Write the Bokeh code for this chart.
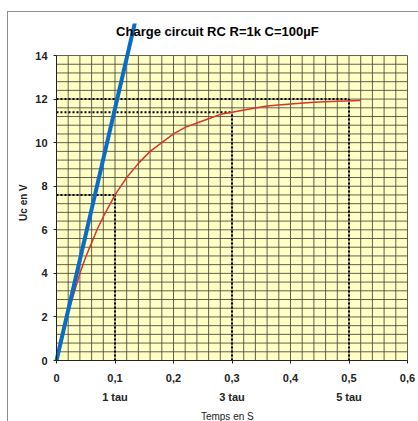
import numpy as np
from bokeh.plotting import figure
from bokeh.models import FixedTicker, Label, BoxAnnotation, Range1d, LinearAxis
from bokeh.embed import file_html
from bokeh.resources import INLINE

# ---- data ----
t_s = [0.0, 0.01, 0.02, 0.03, 0.04, 0.05, 0.06, 0.07, 0.08, 0.09, 0.10,
       0.12, 0.14, 0.16, 0.18, 0.20, 0.22, 0.24, 0.26, 0.28, 0.30,
       0.33, 0.36, 0.40, 0.44, 0.48, 0.52]
uc_v = [0.0, 1.1, 2.2, 3.1, 4.0, 4.75, 5.4, 6.05, 6.6, 7.1, 7.6,
        8.4, 9.05, 9.6, 10.0, 10.4, 10.7, 10.9, 11.1, 11.3, 11.4,
        11.55, 11.68, 11.78, 11.85, 11.9, 11.93]

tangent_t = [0.0, 0.134]
tangent_uc = [0.0, 15.5]

tau_t = [0.1, 0.3, 0.5]
tau_uc = [7.6, 11.4, 12.0]
tau_labels = ["1 tau", "3 tau", "5 tau"]

x_ticks = [0.0, 0.1, 0.2, 0.3, 0.4, 0.5, 0.6]
x_tick_labels = ["0", "0,1", "0,2", "0,3", "0,4", "0,5", "0,6"]
y_ticks = [0, 2, 4, 6, 8, 10, 12, 14]

title_text = "Charge circuit RC R=1k C=100µF"
x_title = "Temps en S"
x_title_pos = 0.292
y_title = "Uc en V"
y_title_pos = 7.25

X_MAX = 0.6
Y_MAX = 14
x_grid = np.round(np.arange(0, X_MAX + 1e-9, 0.02), 4)
y_grid = np.round(np.arange(0, Y_MAX + 1e-9, 0.4), 4)

FONT = "Liberation Sans"
TXT = "#222222"

p = figure(width=418, height=421, output_backend="svg", toolbar_location=None,
           x_range=Range1d(-0.09573, 0.61880), y_range=Range1d(-2.8, 15.47),
           min_border_left=0, min_border_right=0, min_border_top=23,
           min_border_bottom=0)
p.outline_line_color = None
p.xgrid.visible = False
p.ygrid.visible = False
p.xaxis.visible = False
p.yaxis.visible = False
p.background_fill_alpha = 0
p.border_fill_alpha = 0
p.styles = {
    "background-color": "white",
    "background-image": "linear-gradient(#8c8c8c,#8c8c8c), linear-gradient(#8c8c8c,#8c8c8c)",
    "background-size": "1px 100%, 100% 1px",
    "background-position": "7px 11px, 7px 11px",
    "background-repeat": "no-repeat",
}

# plot area background
p.add_layout(BoxAnnotation(left=0, right=X_MAX, bottom=0, top=Y_MAX,
                           fill_color="#FFFFC6", fill_alpha=1.0,
                           line_color=None, level="underlay"))

# grid lines
grid_col = "#474536"
p.segment(x0=x_grid, x1=x_grid, y0=[0] * len(x_grid), y1=[Y_MAX] * len(x_grid),
          line_color=grid_col, line_width=1, line_alpha=0.85)
p.segment(x0=[0] * len(y_grid), x1=[X_MAX] * len(y_grid), y0=y_grid, y1=y_grid,
          line_color=grid_col, line_width=1, line_alpha=0.85)

# dotted tau guides
p.segment(x0=[0] * 3, x1=tau_t, y0=tau_uc, y1=tau_uc,
          line_color="black", line_width=2, line_dash="2 2")
p.segment(x0=tau_t, x1=tau_t, y0=[0] * 3, y1=tau_uc,
          line_color="black", line_width=2, line_dash="2 2")

# curves
p.line(t_s, uc_v, line_color="#D8342C", line_width=1.5)
p.line(tangent_t, tangent_uc, line_color="#0A6CC4", line_width=4)


def styled(ax, size="11px", style="bold"):
    ax.minor_tick_line_color = None
    ax.major_tick_in = 0
    ax.major_tick_out = 3
    ax.axis_line_color = TXT
    ax.major_tick_line_color = TXT
    ax.major_label_text_font = FONT
    ax.major_label_text_font_style = style
    ax.major_label_text_font_size = size
    ax.major_label_text_color = TXT
    return ax


def text_axis(ticks, labels, standoff, size, style):
    ax = LinearAxis(ticker=FixedTicker(ticks=ticks),
                    major_label_overrides={v: s for v, s in zip(ticks, labels)})
    styled(ax, size, style)
    ax.axis_line_color = None
    ax.major_tick_line_color = None
    ax.major_tick_out = 0
    ax.major_label_standoff = standoff
    ax.fixed_location = 0
    return ax


# main axes, placed at x=0 / y=0
x_axis = styled(LinearAxis(ticker=FixedTicker(ticks=x_ticks),
                           major_label_overrides={v: s for v, s in zip(x_ticks, x_tick_labels)},
                           bounds=(0, X_MAX)))
x_axis.fixed_location = 0
x_axis.major_label_standoff = 10
p.add_layout(x_axis, "below")

y_axis = styled(LinearAxis(ticker=FixedTicker(ticks=y_ticks), bounds=(0, Y_MAX)))
y_axis.fixed_location = 0
y_axis.major_label_standoff = 6
p.add_layout(y_axis, "left")

p.add_layout(text_axis(tau_t, tau_labels, 30, "11px", "bold"), "below")
p.add_layout(text_axis([x_title_pos], [x_title], 50, "10px", "normal"), "below")
yt_axis = text_axis([y_title_pos], [y_title], 27, "10px", "bold")
yt_axis.major_label_orientation = "vertical"
p.add_layout(yt_axis, "left")

# title
p.add_layout(Label(x=0.275, y=15.11, text=title_text, text_align="center",
                   text_baseline="middle", text_font=FONT, text_font_style="bold",
                   text_font_size="13px", text_color="black"))

open("out.html", "w").write(file_html(p, INLINE))
